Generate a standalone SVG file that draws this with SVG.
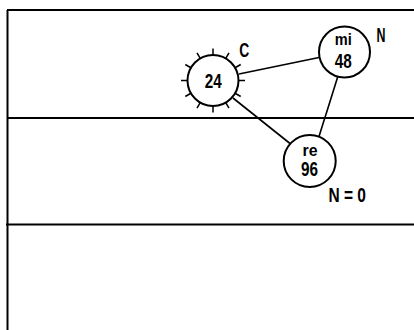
<svg xmlns="http://www.w3.org/2000/svg" width="414" height="330" viewBox="0 0 414 330">
<style>
.frame{stroke:#000;stroke-width:2;fill:none}
.node{fill:#fff;stroke:#000;stroke-width:2}
.edge{stroke:#000;stroke-width:1.6;fill:none}
.tick{stroke:#000;stroke-width:1.5}
.lbl{font-family:"Liberation Sans",Arial,sans-serif;font-weight:bold;font-size:19.5px;text-anchor:middle;fill:#000}
.sm{font-size:16.5px}
</style>
<rect width="414" height="330" fill="#fff"/>
<g id="frame">
<line class="frame" x1="7" y1="10" x2="414" y2="10"/>
<line class="frame" x1="7.5" y1="10" x2="7.5" y2="330"/>
<line class="frame" x1="7" y1="118" x2="414" y2="118"/>
<line class="frame" x1="6" y1="224.5" x2="414" y2="224.5"/>
</g>
<g id="connectors">
<line class="edge" x1="239" y1="74" x2="319" y2="57.5"/>
<line class="edge" x1="233" y1="98" x2="290" y2="143.5"/>
<line class="edge" x1="338" y1="76" x2="319" y2="136.5"/>
</g>
<g id="node-24">
<g transform="translate(213,80.5)">
<g class="tick">
<line x1="25.5" y1="0" x2="32" y2="0"/>
<line x1="25.5" y1="0" x2="32" y2="0" transform="rotate(30)"/>
<line x1="25.5" y1="0" x2="32" y2="0" transform="rotate(60)"/>
<line x1="25.5" y1="0" x2="32" y2="0" transform="rotate(90)"/>
<line x1="25.5" y1="0" x2="32" y2="0" transform="rotate(120)"/>
<line x1="25.5" y1="0" x2="32" y2="0" transform="rotate(150)"/>
<line x1="25.5" y1="0" x2="32" y2="0" transform="rotate(180)"/>
<line x1="25.5" y1="0" x2="32" y2="0" transform="rotate(210)"/>
<line x1="25.5" y1="0" x2="32" y2="0" transform="rotate(240)"/>
<line x1="25.5" y1="0" x2="32" y2="0" transform="rotate(270)"/>
<line x1="25.5" y1="0" x2="32" y2="0" transform="rotate(300)"/>
<line x1="25.5" y1="0" x2="32" y2="0" transform="rotate(330)"/>
</g>
<circle class="node" cx="0" cy="0" r="25.5"/>
</g>
<text class="lbl" x="213.3" y="87.5" textLength="17" lengthAdjust="spacingAndGlyphs">24</text>
<text class="lbl" x="244.3" y="56.7" textLength="10" lengthAdjust="spacingAndGlyphs">C</text>
</g>
<g id="node-mi">
<circle class="node" cx="344.5" cy="52" r="25.5"/>
<text class="lbl sm" x="343.3" y="44.5" textLength="17" lengthAdjust="spacingAndGlyphs">mi</text>
<text class="lbl" x="343.3" y="67.7" textLength="17" lengthAdjust="spacingAndGlyphs">48</text>
<text class="lbl" x="381" y="41.7" textLength="9" lengthAdjust="spacingAndGlyphs">N</text>
</g>
<g id="node-re">
<circle class="node" cx="309.7" cy="161" r="26"/>
<text class="lbl sm" x="310" y="155.5" textLength="15" lengthAdjust="spacingAndGlyphs">re</text>
<text class="lbl" x="309.5" y="176" textLength="17" lengthAdjust="spacingAndGlyphs">96</text>
<text class="lbl" x="347.2" y="201.7" textLength="37.5" lengthAdjust="spacingAndGlyphs">N = 0</text>
</g>
</svg>
